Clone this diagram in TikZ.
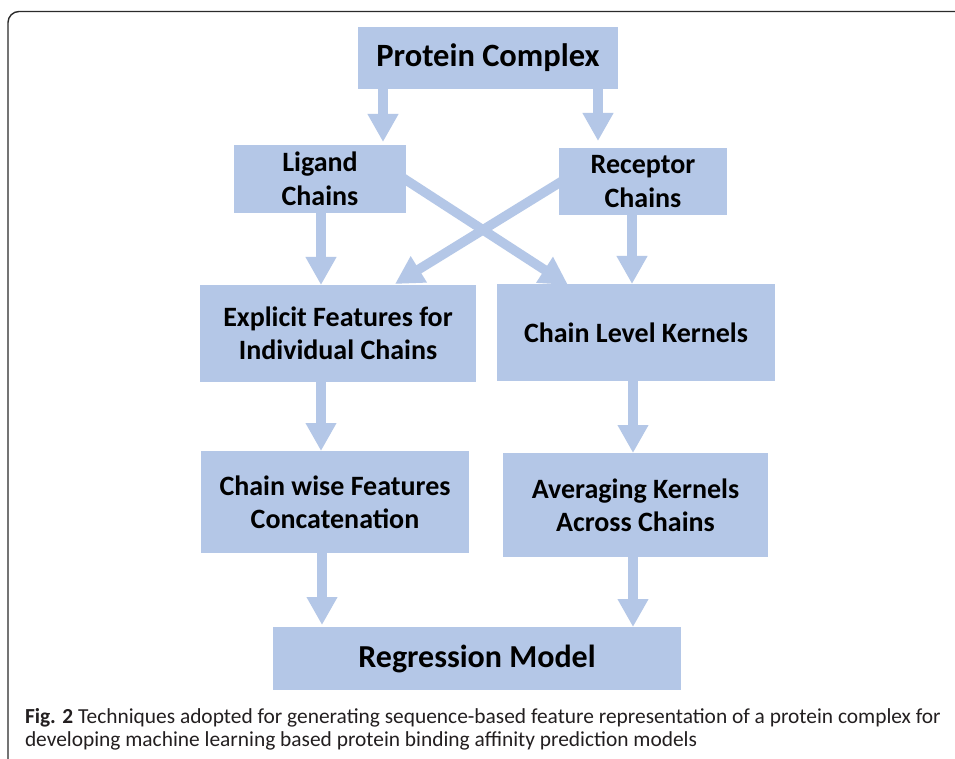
\documentclass[tikz,border=0pt]{standalone}
\usepackage{fontspec}
\setmainfont{Carlito}
\usetikzlibrary{arrows.meta,calc}
\definecolor{boxblue}{HTML}{B4C7E7}
\definecolor{framegray}{HTML}{2B2B2B}
\definecolor{captext}{HTML}{231F20}
\begin{document}
\begin{tikzpicture}[x=1pt,y=-1pt,
  box/.style={fill=boxblue, draw=none, inner sep=0pt, outer sep=0pt, align=center,
    font=\bfseries\fontsize{28}{33}\selectfont},
  fat/.style={draw=boxblue, line width=9.5pt, -{Triangle[length=28pt,width=29pt]}},
  captxt/.style={anchor=base west, inner sep=0pt, outer sep=0pt, text=captext,
    font=\fontsize{21.4}{23}\selectfont},
]
\useasboundingbox (0,0) rectangle (955,759);
\fill[white] (0,0) rectangle (955,759);
\draw[framegray, line width=1.4pt, rounded corners=11pt] (8,762) -- (8,11.5) -- (958,11.5);

% boxes
\node[box, minimum width=260pt, minimum height=62pt, font=\bfseries\fontsize{32.5}{36}\selectfont] (pc) at (488,58) {Protein Complex};
\node[box, minimum width=172pt, minimum height=68pt, font=\bfseries\fontsize{28}{34}\selectfont] (lc) at (320,179) {Ligand\\Chains};
\node[box, minimum width=168pt, minimum height=67pt, font=\bfseries\fontsize{28}{34}\selectfont] (rc) at (643,181.5) {Receptor\\Chains};
\node[box, minimum width=276pt, minimum height=97pt] (ef) at (338,333.5) {Explicit Features for\\Individual Chains};
\node[box, minimum width=278pt, minimum height=97pt] (clk) at (636,332.5) {Chain Level Kernels};
\node[box, minimum width=268pt, minimum height=102pt] (cwf) at (335,502) {Chain wise Features\\Concatenation};
\node[box, minimum width=265pt, minimum height=104pt] (ak) at (635.5,505) {Averaging Kernels\\Across Chains};
\node[box, minimum width=408pt, minimum height=63pt, font=\bfseries\fontsize{32}{36}\selectfont] (rm) at (477,658.5) {Regression Model};

% arrows
\draw[fat] ($(pc.south west)+(25,0)$) -- ($(lc.north west)+(149,-3)$);
\draw[fat] ($(pc.south west)+(240,0)$) -- ($(rc.north west)+(39,-7)$);
\draw[fat] ($(lc.south west)+(87,0)$) -- ($(ef.north west)+(121,0)$);
\draw[fat] ($(rc.south west)+(73,0)$) -- ($(clk.north west)+(135,0)$);
\draw[fat, shorten <=-10pt] ($(lc.north east)+(0,35)$) -- ($(clk.north west)+(71,1)$);
\draw[fat, shorten <=-10pt] ($(rc.north west)+(0,35)$) -- ($(ef.north west)+(195,-1)$);
\draw[fat] ($(ef.south west)+(121,0)$) -- ($(cwf.north west)+(120,0)$);
\draw[fat] ($(clk.south west)+(136,0)$) -- ($(ak.north west)+(130,0)$);
\draw[fat] ($(cwf.south west)+(121,0)$) -- ($(rm.north west)+(49,-2)$);
\draw[fat] ($(ak.south west)+(130,0)$) -- ($(rm.north west)+(360,0)$);

% caption
\node[captxt] (cap1) at (25,723.5) {\textbf{Fig. 2} Techniques adopted for generating sequence-based feature representation of a protein complex for};
\node[captxt] (cap2) at (25,746) {developing machine learning based protein binding affinity prediction models};
\end{tikzpicture}
\end{document}
